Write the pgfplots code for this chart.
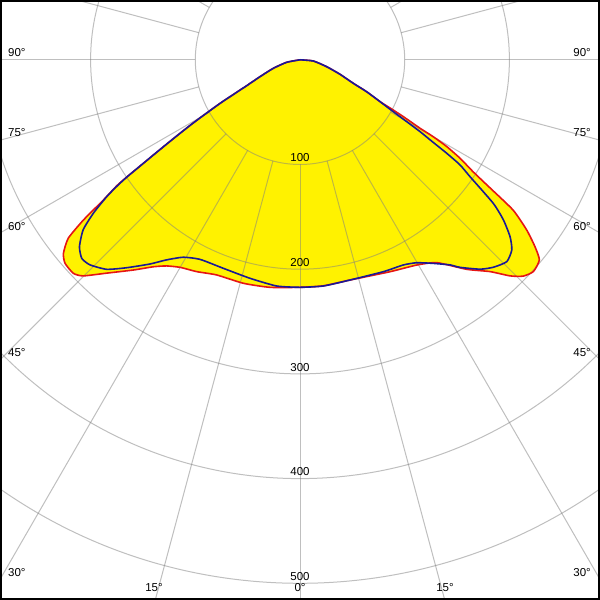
\documentclass[border=0pt]{standalone}
\usepackage{pgfplots}
\usepackage{pgfplotstable}
\pgfplotsset{compat=1.18}
\usepackage{fontspec}
\setmainfont{Liberation Sans}
\definecolor{cred}{RGB}{230,20,20}
\definecolor{cblue}{RGB}{25,25,150}
\definecolor{gridc}{RGB}{128,128,128}
\tikzset{
  gridline/.style={gridc, opacity=0.5, line width=1pt},
  lbl/.style={font=\fontsize{11.5}{13}\selectfont, inner sep=0pt},
}

% C0-C180 plane (red): signed angle (negative = left half), intensity cd/klm
\pgfplotstableread{
A I
-90 0
-79.4 12.9
-72.3 26.8
-67.1 41.5
-64.1 56.6
-62.5 71.8
-61.4 87.1
-60.3 102.6
-59.4 118.4
-58.5 134.4
-57.7 150.6
-57.0 167.0
-56.4 183.4
-55.9 199.8
-55.5 212.0
-54.5 230.7
-53.5 257.4
-52.4 279.4
-50.7 292.0
-49.1 296.9
-46.7 297.4
-45.1 292.4
-42.2 275.1
-38.4 256.2
-35.3 242.2
-32.9 234.5
-30.0 228.9
-26.0 225.1
-21.2 220.4
-14.2 220.2
-7.5 219.2
0 217.3
6 217.0
12.8 215.7
23.0 219.9
29.6 225.5
34.0 233.7
38.5 255.7
41.9 271.8
44.2 287.9
45.9 296.9
47.8 301.0
50.1 298.0
51.5 286.8
53.1 270.8
54.8 249.2
55.9 221.6
56.2 214.7
57.1 197.0
58.4 179.5
59.4 162.8
60.0 147.0
60.3 132.0
61.0 116.5
61.7 101.2
62.4 86.2
64.4 70.6
66.2 55.6
70.1 40.6
75.5 26.3
84.8 12.8
90 0
}\redcurve

% C90-C270 plane (blue)
\pgfplotstableread{
A I
-90 0
-79.4 12.9
-72.3 26.8
-67.1 41.5
-64.1 56.6
-62.5 71.8
-61.4 87.1
-60.3 102.6
-59.4 118.4
-58.5 134.4
-57.7 150.6
-57.0 167.0
-56.4 183.4
-55.9 199.8
-55.4 212.0
-54.7 226.2
-53.4 245.9
-51.9 263.2
-49.7 276.2
-47.7 281.8
-45.7 280.4
-42.7 272.3
-39.8 258.5
-36.3 242.0
-33.7 229.7
-30.6 219.1
-26.6 213.2
-20.2 212.2
-12.9 214.1
-5.9 217.2
0 217.3
5.9 217.2
12.8 215.7
21.5 217.5
26.7 219.4
29.9 223.6
33.2 232.4
36.2 242.8
37.6 250.2
40.7 263.8
43.0 270.9
45.7 276.0
48.1 271.8
49.9 262.3
51.8 247.2
53.4 229.9
55.5 197.0
56.7 182.9
57.5 166.2
58.2 149.7
59.1 133.6
59.9 117.8
60.9 102.0
62.4 86.2
64.4 70.6
66.2 55.6
70.1 40.6
75.5 26.3
84.8 12.8
90 0
}\bluecurve

\begin{document}
\begin{tikzpicture}
\begin{axis}[
  width=600pt, height=600pt, scale only axis,
  xmin=0, xmax=600, ymin=0, ymax=600,
  axis line style={draw=none},
  axis background/.style={fill=white},
  xtick=\empty, ytick=\empty,
  clip=true,
]
% yellow area
\addplot[fill=yellow, draw=none, smooth, tension=0.35] table[x expr={300+1.047*\thisrow{I}*sin(\thisrow{A})}, y expr={540.2-1.047*\thisrow{I}*cos(\thisrow{A})}] {\redcurve};
\addplot[fill=yellow, draw=none, smooth, tension=0.35] table[x expr={300+1.047*\thisrow{I}*sin(\thisrow{A})}, y expr={540.2-1.047*\thisrow{I}*cos(\thisrow{A})}] {\bluecurve};
% grid circles
\draw[gridline] (axis cs:300,540.2) circle[radius=104.7pt];
\draw[gridline] (axis cs:300,540.2) circle[radius=209.4pt];
\draw[gridline] (axis cs:300,540.2) circle[radius=314.1pt];
\draw[gridline] (axis cs:300,540.2) circle[radius=418.8pt];
\draw[gridline] (axis cs:300,540.2) circle[radius=523.5pt];
% spokes
\pgfplotsinvokeforeach{0,15,...,345}{
  \draw[gridline, shift={(axis cs:300,540.2)}] (#1:104.7pt) -- (#1:900pt);
}
% curves
\addplot[cred, line width=1.6pt, smooth, tension=0.35] table[x expr={300+1.047*\thisrow{I}*sin(\thisrow{A})}, y expr={540.2-1.047*\thisrow{I}*cos(\thisrow{A})}] {\redcurve};
\addplot[cblue, line width=1.6pt, smooth, tension=0.35] table[x expr={300+1.047*\thisrow{I}*sin(\thisrow{A})}, y expr={540.2-1.047*\thisrow{I}*cos(\thisrow{A})}] {\bluecurve};
% radial labels
\node[lbl] at (axis cs:300,442) {100};
\node[lbl] at (axis cs:300,337) {200};
\node[lbl] at (axis cs:300,232) {300};
\node[lbl] at (axis cs:300,128) {400};
\node[lbl] at (axis cs:300,23) {500};
% angle labels
\node[lbl, anchor=west] at (axis cs:8,547) {90°};
\node[lbl, anchor=west] at (axis cs:8,467) {75°};
\node[lbl, anchor=west] at (axis cs:8,373) {60°};
\node[lbl, anchor=west] at (axis cs:8,247) {45°};
\node[lbl, anchor=west] at (axis cs:8,27) {30°};
\node[lbl, anchor=east] at (axis cs:591,547) {90°};
\node[lbl, anchor=east] at (axis cs:591,467) {75°};
\node[lbl, anchor=east] at (axis cs:591,373) {60°};
\node[lbl, anchor=east] at (axis cs:591,247) {45°};
\node[lbl, anchor=east] at (axis cs:591,27) {30°};
\node[lbl] at (axis cs:154,12) {15°};
\node[lbl] at (axis cs:300,12) {0°};
\node[lbl] at (axis cs:445,12) {15°};
% frame
\draw[black, line width=2pt] (axis cs:1,1) rectangle (axis cs:599,599);
\end{axis}
\end{tikzpicture}
\end{document}
